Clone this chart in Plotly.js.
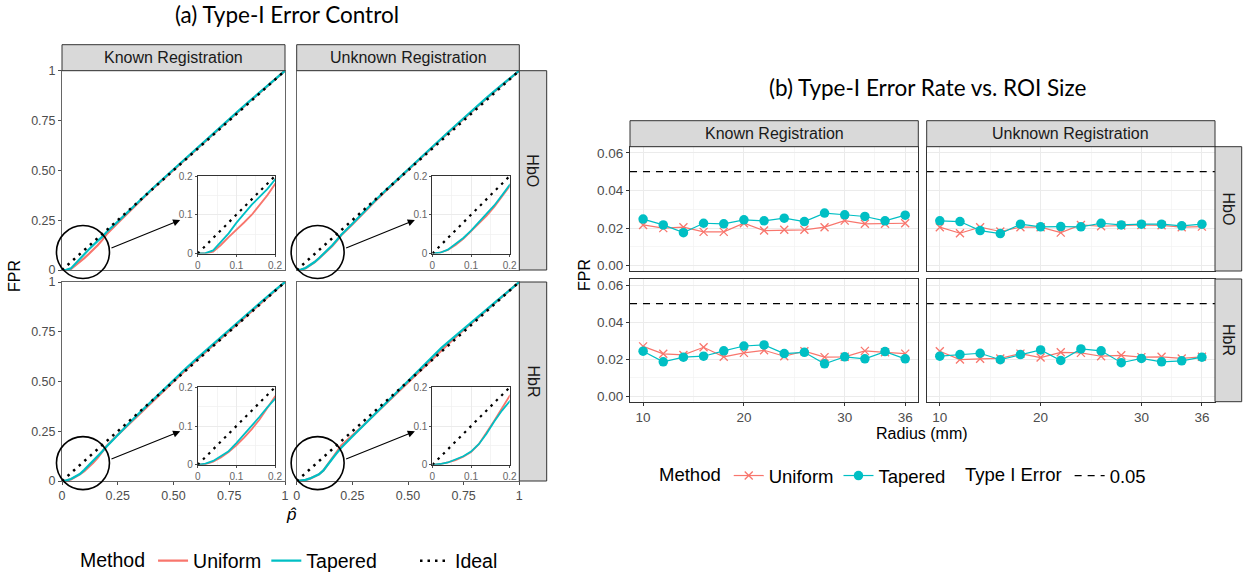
<!DOCTYPE html>
<html>
<head>
<meta charset="utf-8">
<script src="https://cdn.plot.ly/plotly-3.0.1.min.js"></script>
<style>
  html, body { margin: 0; padding: 0; background: #fff; }
  #chart { width: 1245px; height: 579px; }
</style>
</head>
<body>
<div id="chart"></div>
<script>
// ---------- (a) calibration curves: empirical FPR against nominal p-value ----------
const pGrid = [0, 0.02, 0.04, 0.06, 0.08, 0.10, 0.12, 0.14, 0.16, 0.18, 0.20,
               0.25, 0.30, 0.35, 0.40, 0.45, 0.50, 0.55, 0.60, 0.65, 0.70, 0.75, 0.80, 0.85, 0.90, 0.95, 1.00];

const knownHbO_uniform = [0, 0.000, 0.005, 0.022, 0.042, 0.060, 0.080, 0.100, 0.124, 0.150, 0.179,
  0.236, 0.292, 0.347, 0.400, 0.451, 0.502, 0.553, 0.602, 0.651, 0.702, 0.754, 0.804, 0.854, 0.903, 0.951, 1];
const knownHbO_tapered = [0, 0.001, 0.008, 0.030, 0.052, 0.079, 0.103, 0.126, 0.146, 0.166, 0.191,
  0.243, 0.298, 0.351, 0.403, 0.454, 0.505, 0.555, 0.604, 0.654, 0.705, 0.757, 0.807, 0.856, 0.905, 0.952, 1];

const unknownHbO_uniform = [0, 0.002, 0.009, 0.022, 0.038, 0.058, 0.078, 0.097, 0.120, 0.147, 0.174,
  0.229, 0.287, 0.343, 0.397, 0.450, 0.502, 0.554, 0.606, 0.657, 0.708, 0.759, 0.809, 0.858, 0.906, 0.953, 1];
const unknownHbO_tapered = [0, 0.002, 0.010, 0.024, 0.040, 0.059, 0.080, 0.101, 0.124, 0.150, 0.177,
  0.232, 0.290, 0.346, 0.400, 0.453, 0.505, 0.557, 0.609, 0.660, 0.711, 0.762, 0.812, 0.861, 0.909, 0.955, 1];

const knownHbR_uniform = [0, 0.002, 0.008, 0.019, 0.033, 0.050, 0.070, 0.092, 0.117, 0.147, 0.176,
  0.232, 0.286, 0.340, 0.394, 0.448, 0.501, 0.553, 0.604, 0.654, 0.705, 0.755, 0.805, 0.855, 0.904, 0.952, 1];
const knownHbR_tapered = [0, 0.003, 0.010, 0.022, 0.035, 0.056, 0.078, 0.100, 0.124, 0.148, 0.173,
  0.233, 0.289, 0.345, 0.400, 0.455, 0.508, 0.560, 0.611, 0.661, 0.712, 0.760, 0.810, 0.859, 0.907, 0.954, 1];

const unknownHbR_uniform = [0, 0.002, 0.006, 0.012, 0.021, 0.033, 0.053, 0.082, 0.114, 0.146, 0.178,
  0.228, 0.280, 0.334, 0.388, 0.442, 0.496, 0.549, 0.605, 0.658, 0.709, 0.759, 0.809, 0.856, 0.904, 0.952, 1];
const unknownHbR_tapered = [0, 0.002, 0.006, 0.013, 0.022, 0.034, 0.053, 0.080, 0.112, 0.140, 0.167,
  0.224, 0.280, 0.336, 0.391, 0.446, 0.501, 0.555, 0.616, 0.669, 0.717, 0.766, 0.814, 0.859, 0.906, 0.954, 1];

const idealLine = [0, 1];

const calibTicks = [0, 0.25, 0.5, 0.75, 1];
const calibTickText = ['0', '0.25', '0.50', '0.75', '1'];
const insetTicks = [0, 0.1, 0.2];
const insetTickText = ['0', '0.1', '0.2'];
const insetMinor = [0.05, 0.15];

// ---------- (b) FPR against ROI radius ----------
const radius = [10, 12, 14, 16, 18, 20, 22, 24, 26, 28, 30, 32, 34, 36];

const roiKnownHbO_uniform   = [0.0217, 0.0200, 0.0205, 0.0180, 0.0180, 0.0226, 0.0187, 0.0191, 0.0191, 0.0205, 0.0240, 0.0223, 0.0223, 0.0226];
const roiKnownHbO_tapered   = [0.0248, 0.0217, 0.0176, 0.0226, 0.0223, 0.0244, 0.0239, 0.0253, 0.0235, 0.0280, 0.0271, 0.0262, 0.0239, 0.0269];
const roiUnknownHbO_uniform = [0.0205, 0.0173, 0.0205, 0.0182, 0.0205, 0.0205, 0.0176, 0.0217, 0.0210, 0.0214, 0.0217, 0.0215, 0.0205, 0.0208];
const roiUnknownHbO_tapered = [0.0239, 0.0235, 0.0187, 0.0171, 0.0221, 0.0207, 0.0208, 0.0207, 0.0226, 0.0217, 0.0221, 0.0221, 0.0212, 0.0221];
const roiKnownHbR_uniform   = [0.0270, 0.0230, 0.0224, 0.0265, 0.0214, 0.0235, 0.0249, 0.0217, 0.0244, 0.0212, 0.0214, 0.0246, 0.0238, 0.0231];
const roiKnownHbR_tapered   = [0.0244, 0.0187, 0.0212, 0.0217, 0.0246, 0.0272, 0.0278, 0.0231, 0.0238, 0.0176, 0.0214, 0.0203, 0.0242, 0.0203];
const roiUnknownHbR_uniform = [0.0244, 0.0199, 0.0203, 0.0205, 0.0231, 0.0210, 0.0238, 0.0235, 0.0217, 0.0222, 0.0212, 0.0214, 0.0205, 0.0214];
const roiUnknownHbR_tapered = [0.0217, 0.0226, 0.0233, 0.0198, 0.0226, 0.0251, 0.0194, 0.0256, 0.0246, 0.0182, 0.0205, 0.0187, 0.0192, 0.0212];

const typeIErrorLevel = 0.05;
const radiusTicks = [10, 20, 30, 36];
const radiusMinor = [15, 25, 33];
const fprTicks = [0, 0.02, 0.04, 0.06];
const fprTickText = ['0.00', '0.02', '0.04', '0.06'];
const fprMinor = [0.01, 0.03, 0.05];

const registrations = ['Known Registration', 'Unknown Registration'];
const chromophores = ['HbO', 'HbR'];
const methods = ['Uniform', 'Tapered'];

// ---------- styling / geometry ----------
const W = 1245, H = 579;
const fx = v => v / W;
const fy = v => 1 - v / H;
const FONT = "Arial, 'Liberation Sans', Helvetica, sans-serif";
const TITLE_FONT = "Lato, 'Open Sans', sans-serif";
const RED = '#F8766D', CYAN = '#00BFC4';

const aCols = [[62, 285], [296.7, 519.3]];
const aRows = [[70.7, 270], [282, 481]];
const insetOffX = [135.7, 213];
const insetOffY = [105.3, 182.8];
const focus = [0.094, 0.09];
const focusR = 26.5;

const bCols = [[630, 918.3], [926.7, 1215]];
const bRows = [[146.7, 271], [279, 401.7]];
const radiusRange = [8.7, 37.3];
const fprRange = [-0.0028, 0.0633];

const calibPanels = [
  [knownHbO_uniform, knownHbO_tapered], [unknownHbO_uniform, unknownHbO_tapered],
  [knownHbR_uniform, knownHbR_tapered], [unknownHbR_uniform, unknownHbR_tapered]
];
const roiPanels = [
  [roiKnownHbO_uniform, roiKnownHbO_tapered], [roiUnknownHbO_uniform, roiUnknownHbO_tapered],
  [roiKnownHbR_uniform, roiKnownHbR_tapered], [roiUnknownHbR_uniform, roiUnknownHbR_tapered]
];

const layout = {
  width: W, height: H,
  margin: {l: 0, r: 0, t: 0, b: 0, autoexpand: false},
  paper_bgcolor: '#ffffff', plot_bgcolor: '#ffffff',
  font: {family: FONT, color: '#000'},
  hovermode: false,
  showlegend: true,
  shapes: [],
  annotations: []
};
const traces = [];

const sfx = n => (n === 1 ? '' : String(n));
function setAxes(n, xCfg, yCfg) {
  layout['xaxis' + sfx(n)] = Object.assign({anchor: 'y' + sfx(n), fixedrange: true, automargin: false}, xCfg);
  layout['yaxis' + sfx(n)] = Object.assign({anchor: 'x' + sfx(n), fixedrange: true, automargin: false}, yCfg);
}
function rect(x0, y0, x1, y1, fill, lineColor) {
  return {type: 'rect', xref: 'paper', yref: 'paper', layer: 'above',
    x0: fx(x0), x1: fx(x1), y0: fy(y1), y1: fy(y0),
    fillcolor: fill, line: {color: lineColor, width: 1}};
}
function label(x, y, text, size, opts) {
  return Object.assign({xref: 'paper', yref: 'paper', x: fx(x), y: fy(y), text: text,
    showarrow: false, xanchor: 'center', yanchor: 'middle',
    font: {family: FONT, size: size, color: '#000'}}, opts || {});
}

// ---------- (a) panels with zoomed insets ----------
const dotDash = '2.5px,5px';
for (let r = 0; r < 2; r++) {
  for (let c = 0; c < 2; c++) {
    const k = r * 2 + c;
    const [x0, x1] = aCols[c];
    const [y0, y1] = aRows[r];
    const main = {
      showgrid: false, zeroline: false, showline: true, mirror: true,
      linecolor: '#666', linewidth: 1, range: [0, 1],
      tickmode: 'array', tickvals: calibTicks, ticktext: calibTickText,
      ticklen: 3, tickwidth: 1, tickcolor: '#4d4d4d',
      tickfont: {family: FONT, size: 12.5, color: '#4d4d4d'}
    };
    setAxes(k + 1,
      Object.assign({}, main, {domain: [fx(x0), fx(x1)], ticks: r === 1 ? 'outside' : '', showticklabels: r === 1}),
      Object.assign({}, main, {domain: [fy(y1), fy(y0)], ticks: c === 0 ? 'outside' : '', showticklabels: c === 0}));

    const ix0 = x0 + insetOffX[0], ix1 = x0 + insetOffX[1];
    const iy0 = y0 + insetOffY[0], iy1 = y0 + insetOffY[1];
    const inset = {
      range: [0, 0.2], showgrid: true, gridcolor: '#ebebeb', gridwidth: 1,
      minor: {tickmode: 'array', tickvals: insetMinor, showgrid: true, gridcolor: '#f0f0f0', gridwidth: 0.7, ticks: ''},
      zeroline: false, showline: true, mirror: true, linecolor: '#333', linewidth: 1,
      tickmode: 'array', tickvals: insetTicks, ticktext: insetTickText,
      ticks: 'outside', ticklen: 2, tickwidth: 1, tickcolor: '#4d4d4d',
      tickfont: {family: FONT, size: 10, color: '#666'}
    };
    setAxes(k + 5,
      Object.assign({}, inset, {domain: [fx(ix0), fx(ix1)]}),
      Object.assign({}, inset, {domain: [fy(iy1), fy(iy0)]}));

    const [uni, tap] = calibPanels[k];
    [[k + 1, 2.2, 2.5], [k + 5, 1.8, 2.2]].forEach(([n, lw, dw], idx) => {
      const first = (k === 0 && idx === 0);
      traces.push({type: 'scatter', mode: 'lines', x: pGrid, y: uni, name: methods[0],
        xaxis: 'x' + sfx(n), yaxis: 'y' + sfx(n), line: {color: RED, width: lw},
        showlegend: first, legend: 'legend'});
      traces.push({type: 'scatter', mode: 'lines', x: pGrid, y: tap, name: methods[1],
        xaxis: 'x' + sfx(n), yaxis: 'y' + sfx(n), line: {color: CYAN, width: lw},
        showlegend: first, legend: 'legend'});
      traces.push({type: 'scatter', mode: 'lines', x: idealLine, y: idealLine, name: 'Ideal',
        xaxis: 'x' + sfx(n), yaxis: 'y' + sfx(n), line: {color: '#000', width: dw, dash: dotDash},
        showlegend: first, legend: 'legend3'});
    });

    // magnifier circle around the low p-value region and arrow to the inset
    const cx = x0 + focus[0] * (x1 - x0);
    const cy = y1 - focus[1] * (y1 - y0);
    layout.shapes.push({type: 'circle', xref: 'paper', yref: 'paper', layer: 'above',
      x0: fx(cx - focusR), x1: fx(cx + focusR), y0: fy(cy + focusR), y1: fy(cy - focusR),
      line: {color: '#000', width: 1.6}});
    const hx = ix0 - 17.5, hy = iy0 + 44;
    const tx = cx + 27, ty = cy - 3.5;
    layout.annotations.push({xref: 'paper', yref: 'paper', x: fx(hx), y: fy(hy),
      ax: tx - hx, ay: ty - hy, axref: 'pixel', ayref: 'pixel', text: '',
      showarrow: true, arrowhead: 2, arrowsize: 1.3, arrowwidth: 1.1, arrowcolor: '#000', standoff: 0});
  }
}

// (a) strips
registrations.forEach((name, c) => {
  const [x0, x1] = aCols[c];
  layout.shapes.push(rect(x0, 44.7, x1, aRows[0][0], '#d9d9d9', '#333'));
  layout.annotations.push(label((x0 + x1) / 2, (44.7 + aRows[0][0]) / 2, name, 16, {font: {family: FONT, size: 16, color: '#1a1a1a'}}));
});
chromophores.forEach((name, r) => {
  const [y0, y1] = aRows[r];
  layout.shapes.push(rect(aCols[1][1], y0, 546.7, y1, '#d9d9d9', '#333'));
  layout.annotations.push(label((aCols[1][1] + 546.7) / 2, (y0 + y1) / 2, name, 16, {textangle: 90, font: {family: FONT, size: 16, color: '#1a1a1a'}}));
});

// ---------- (b) panels ----------
for (let r = 0; r < 2; r++) {
  for (let c = 0; c < 2; c++) {
    const k = r * 2 + c, n = k + 9;
    const [x0, x1] = bCols[c];
    const [y0, y1] = bRows[r];
    const base = {
      zeroline: false, showline: true, mirror: true, linecolor: '#333', linewidth: 1,
      showgrid: true, gridcolor: '#ebebeb', gridwidth: 1,
      ticklen: 3, tickwidth: 1, tickcolor: '#333',
      tickfont: {family: FONT, size: 13.5, color: '#4d4d4d'}
    };
    setAxes(n,
      Object.assign({}, base, {domain: [fx(x0), fx(x1)], range: radiusRange,
        tickmode: 'array', tickvals: radiusTicks, ticks: r === 1 ? 'outside' : '', showticklabels: r === 1,
        minor: {tickmode: 'array', tickvals: radiusMinor, showgrid: true, gridcolor: '#f2f2f2', gridwidth: 0.7, ticks: ''}}),
      Object.assign({}, base, {domain: [fy(y1), fy(y0)], range: fprRange,
        tickmode: 'array', tickvals: fprTicks, ticktext: fprTickText, ticks: c === 0 ? 'outside' : '', showticklabels: c === 0,
        minor: {tickmode: 'array', tickvals: fprMinor, showgrid: true, gridcolor: '#f2f2f2', gridwidth: 0.7, ticks: ''}}));

    const [uni, tap] = roiPanels[k];
    const first = k === 0;
    traces.push({type: 'scatter', mode: 'lines', x: radiusRange, y: [typeIErrorLevel, typeIErrorLevel],
      name: String(typeIErrorLevel), xaxis: 'x' + n, yaxis: 'y' + n,
      line: {color: '#000', width: 1.3, dash: '7px,6px'}, showlegend: first, legend: 'legend4'});
    traces.push({type: 'scatter', mode: 'lines+markers', x: radius, y: uni, name: methods[0],
      xaxis: 'x' + n, yaxis: 'y' + n, line: {color: RED, width: 1.2},
      marker: {symbol: 'x-thin', size: 8, color: RED, line: {color: RED, width: 1.3}},
      showlegend: first, legend: 'legend2'});
    traces.push({type: 'scatter', mode: 'lines+markers', x: radius, y: tap, name: methods[1],
      xaxis: 'x' + n, yaxis: 'y' + n, line: {color: CYAN, width: 1.2},
      marker: {symbol: 'circle', size: 9.5, color: CYAN},
      showlegend: first, legend: 'legend2'});
  }
}

// (b) strips
registrations.forEach((name, c) => {
  const [x0, x1] = bCols[c];
  layout.shapes.push(rect(x0, 120.7, x1, bRows[0][0], '#d9d9d9', '#333'));
  layout.annotations.push(label((x0 + x1) / 2, (120.7 + bRows[0][0]) / 2, name, 16, {font: {family: FONT, size: 16, color: '#1a1a1a'}}));
});
chromophores.forEach((name, r) => {
  const [y0, y1] = bRows[r];
  layout.shapes.push(rect(bCols[1][1], y0, 1241.7, y1, '#d9d9d9', '#333'));
  layout.annotations.push(label((bCols[1][1] + 1241.7) / 2, (y0 + y1) / 2, name, 16, {textangle: 90, font: {family: FONT, size: 16, color: '#1a1a1a'}}));
});

// titles and axis titles
layout.annotations.push(label(287, 14, '(a) Type-I Error Control', 22.5, {font: {family: TITLE_FONT, size: 22.5, color: '#000'}}));
layout.annotations.push(label(927.5, 88, '(b) Type-I Error Rate vs. ROI Size', 22.5, {font: {family: TITLE_FONT, size: 22.5, color: '#000'}}));
layout.annotations.push(label(15, 276, 'FPR', 16, {textangle: -90}));
layout.annotations.push(label(291, 514, '<i>p\u0302</i>', 17));
layout.annotations.push(label(584, 275, 'FPR', 16, {textangle: -90}));
layout.annotations.push(label(922, 433, 'Radius (mm)', 16));

// legends
const legendBase = {orientation: 'h', xanchor: 'left', yanchor: 'middle', bgcolor: 'rgba(0,0,0,0)',
  borderwidth: 0, itemwidth: 30, traceorder: 'normal'};
layout.legend = Object.assign({}, legendBase, {x: fx(78), y: fy(561),
  font: {family: FONT, size: 19.5, color: '#000'},
  title: {text: 'Method', side: 'left', font: {family: FONT, size: 19.5, color: '#000'}}});
layout.legend3 = Object.assign({}, legendBase, {x: fx(415), y: fy(561),
  font: {family: FONT, size: 19.5, color: '#000'}});
layout.legend2 = Object.assign({}, legendBase, {x: fx(657), y: fy(476),
  font: {family: FONT, size: 18.5, color: '#000'},
  title: {text: 'Method', side: 'left', font: {family: FONT, size: 18.5, color: '#000'}}});
layout.legend4 = Object.assign({}, legendBase, {x: fx(963), y: fy(476),
  font: {family: FONT, size: 18.5, color: '#000'},
  title: {text: 'Type I Error', side: 'left', font: {family: FONT, size: 18.5, color: '#000'}}});

Plotly.newPlot('chart', traces, layout, {staticPlot: true, displayModeBar: false});
</script>
</body>
</html>
